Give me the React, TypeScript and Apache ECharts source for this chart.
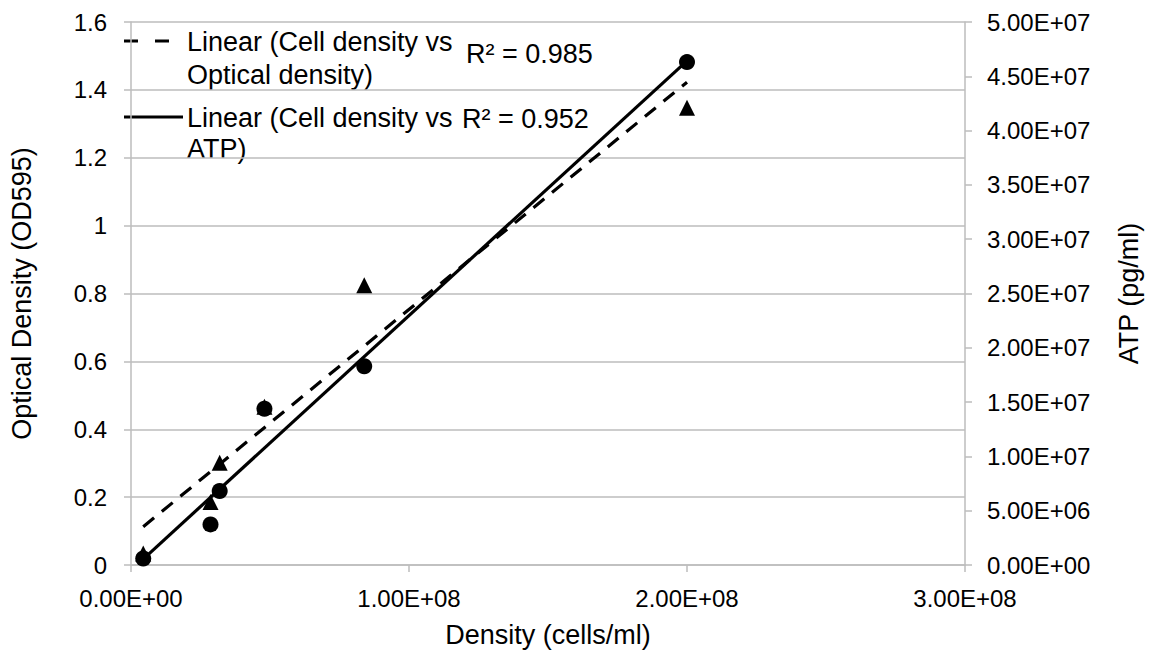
import React, { useEffect, useRef } from "react";
import * as echarts from "echarts";

// ---- data ----
const density = [4.4e6, 2.86e7, 3.19e7, 4.8e7, 8.39e7, 2.0e8]; // cells/ml
const opticalDensity = [0.034, 0.186, 0.301, 0.466, 0.824, 1.347]; // OD595
const atp = [6.0e5, 3.74e6, 6.81e6, 1.439e7, 1.83e7, 4.631e7]; // pg/ml

const xTitle = "Density (cells/ml)";
const leftTitle = "Optical Density (OD595)";
const rightTitle = "ATP (pg/ml)";
const legendOdLines = ["Linear (Cell density vs", "Optical density)"];
const legendAtpLines = ["Linear (Cell density vs", "ATP)"];
const rSquaredLabels = ["R² = 0.985", "R² = 0.952"];

const FONT = '"Liberation Sans", Arial, Helvetica, sans-serif';
const TXT = "#000000";
const GRAY = "#bdbdbd";
const TICK_FS = 24;
const TITLE_FS = 27;

function sci(v: number): string {
  const [m, e] = v.toExponential(2).split("e");
  const n = Number(e);
  return `${m}E${n < 0 ? "-" : "+"}${String(Math.abs(n)).padStart(2, "0")}`;
}

function linearFit(xs: number[], ys: number[]) {
  const n = xs.length;
  const mx = xs.reduce((a, b) => a + b, 0) / n;
  const my = ys.reduce((a, b) => a + b, 0) / n;
  let sxy = 0;
  let sxx = 0;
  for (let i = 0; i < n; i++) {
    sxy += (xs[i] - mx) * (ys[i] - my);
    sxx += (xs[i] - mx) * (xs[i] - mx);
  }
  const slope = sxy / sxx;
  const intercept = my - slope * mx;
  return (x: number) => intercept + slope * x;
}

export default function App() {
  const ref = useRef<HTMLDivElement>(null);

  useEffect(() => {
    if (!ref.current) return;
    const chart = echarts.init(ref.current, undefined, { renderer: "svg" });

    const xMin = Math.min(...density);
    const xMax = Math.max(...density);
    const odFit = linearFit(density, opticalDensity);
    const atpFit = linearFit(density, atp);

    const labelStyle = { fontSize: TICK_FS, color: TXT, fontFamily: FONT };
    const titleStyle = { fontSize: TITLE_FS, color: TXT, fontFamily: FONT };
    const axisLineStyle = { color: GRAY, width: 1.5 };

    const legendText = (text: string, x: number, y: number) => ({
      type: "text",
      x,
      y,
      silent: true,
      style: {
        text,
        font: `${TITLE_FS}px ${FONT}`,
        fill: TXT,
        textAlign: "left",
        textVerticalAlign: "middle",
        align: "left",
        verticalAlign: "middle",
      },
    });

    chart.setOption({
      animation: false,
      backgroundColor: "#ffffff",
      grid: { left: 130, right: 185, top: 22, bottom: 86, containLabel: false },
      xAxis: {
        type: "value",
        min: 0,
        max: 3e8,
        interval: 1e8,
        splitLine: { show: false },
        axisLine: { show: true, onZero: false, lineStyle: axisLineStyle },
        axisTick: { show: true, length: 7, lineStyle: axisLineStyle },
        axisLabel: { ...labelStyle, margin: 21, formatter: (v: number) => sci(v) },
        name: xTitle,
        nameLocation: "middle",
        nameGap: 56,
        nameTextStyle: { ...titleStyle },
      },
      yAxis: [
        {
          type: "value",
          position: "left",
          min: 0,
          max: 1.6,
          interval: 0.2,
          splitLine: { show: true, lineStyle: { color: GRAY, width: 1.5 } },
          axisLine: { show: true, onZero: false, lineStyle: axisLineStyle },
          axisTick: { show: true, length: 7, lineStyle: axisLineStyle },
          axisLabel: {
            ...labelStyle,
            margin: 24,
            formatter: (v: number) => String(parseFloat(v.toFixed(1))),
          },
          name: leftTitle,
          nameLocation: "middle",
          nameGap: 96,
          nameTextStyle: { ...titleStyle },
        },
        {
          type: "value",
          position: "right",
          min: 0,
          max: 5e7,
          interval: 5e6,
          splitLine: { show: false },
          axisLine: { show: true, onZero: false, lineStyle: axisLineStyle },
          axisTick: { show: true, length: 7, lineStyle: axisLineStyle },
          axisLabel: { ...labelStyle, margin: 22, formatter: (v: number) => sci(v) },
          name: rightTitle,
          nameLocation: "middle",
          nameGap: 150,
          nameTextStyle: { ...titleStyle },
        },
      ],
      series: [
        {
          name: "Cell density vs Optical density",
          type: "scatter",
          yAxisIndex: 0,
          symbol: "triangle",
          symbolSize: 16,
          itemStyle: { color: "#000000", opacity: 1 },
          data: density.map((x, i) => [x, opticalDensity[i]]),
          z: 2,
        },
        {
          name: "Cell density vs ATP",
          type: "scatter",
          yAxisIndex: 1,
          symbol: "circle",
          symbolSize: 16,
          itemStyle: { color: "#000000", opacity: 1 },
          data: density.map((x, i) => [x, atp[i]]),
          z: 3,
        },
        {
          name: "Linear (Cell density vs Optical density)",
          type: "line",
          yAxisIndex: 0,
          symbol: "none",
          lineStyle: { color: "#000000", width: 3.2, type: [14, 10] },
          data: [
            [xMin, odFit(xMin)],
            [xMax, odFit(xMax)],
          ],
          z: 4,
        },
        {
          name: "Linear (Cell density vs ATP)",
          type: "line",
          yAxisIndex: 1,
          symbol: "none",
          lineStyle: { color: "#000000", width: 3.2 },
          data: [
            [xMin, atpFit(xMin)],
            [xMax, atpFit(xMax)],
          ],
          z: 4,
        },
      ],
      graphic: [
        {
          type: "line",
          silent: true,
          shape: { x1: 124, y1: 41, x2: 183, y2: 41 },
          style: { stroke: "#000", lineWidth: 3.2, lineDash: [14, 17] },
        },
        {
          type: "line",
          silent: true,
          shape: { x1: 124, y1: 117, x2: 183, y2: 117 },
          style: { stroke: "#000", lineWidth: 3.2 },
        },
        legendText(legendOdLines[0], 187, 42),
        legendText(legendOdLines[1], 187, 75),
        legendText(legendAtpLines[0], 187, 118),
        legendText(legendAtpLines[1], 187, 149),
        legendText(rSquaredLabels[0], 466, 54),
        legendText(rSquaredLabels[1], 462, 119),
      ],
    });

    return () => chart.dispose();
  }, []);

  return (
    <div
      ref={ref}
      style={{ position: "fixed", left: 0, top: 0, width: 1150, height: 653, background: "#fff" }}
    />
  );
}
